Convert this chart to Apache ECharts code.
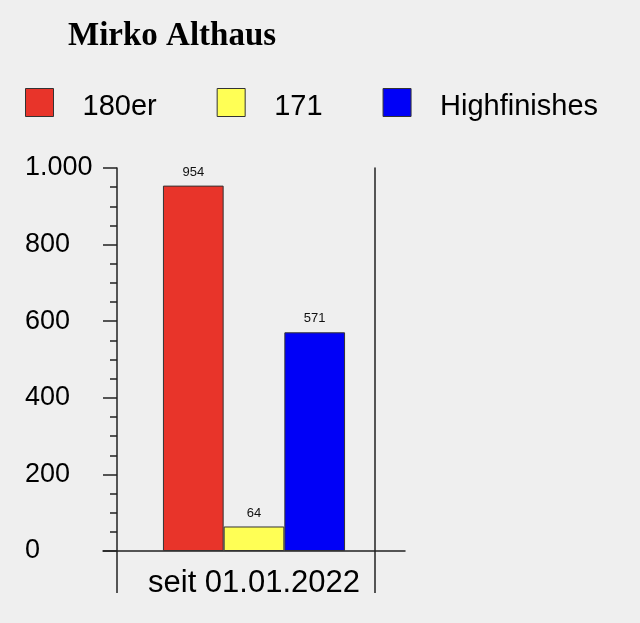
<!DOCTYPE html>
<html><head><meta charset="utf-8">
<script src="https://cdn.jsdelivr.net/npm/echarts@6/dist/echarts.min.js"></script>
<style>html,body{margin:0;padding:0;background:#efefef}#c{width:640px;height:623px}</style>
</head><body><div id="c"></div>
<script>
const titleText = 'Mirko Althaus';
const categories = ['seit 01.01.2022'];
const seriesNames = ['180er', '171', 'Highfinishes'];
const values180 = [954];
const values171 = [64];
const valuesHigh = [571];
const colors = ['#e8342a', '#ffff55', '#0000f7'];
const yTicks = [0, 200, 400, 600, 800, 1000];

const chart = echarts.init(document.getElementById('c'));
const font = 'Liberation Sans, Arial, Helvetica, sans-serif';
const lbl = {show: true, position: 'top', distance: 7, fontSize: 13, color: '#111', fontFamily: font};
const bar = (name, data, color) => ({
  name, type: 'bar', data, barGap: 0, barCategoryGap: '39.7%',
  itemStyle: {color, borderColor: '#333', borderWidth: 1},
  label: lbl
});
chart.setOption({
  backgroundColor: '#efefef',
  animation: false,
  title: {text: titleText, left: 68, top: 20, padding: 0,
    textStyle: {fontFamily: 'Liberation Serif, Times New Roman, serif', fontWeight: 'bold', fontSize: 33, color: '#000'}},
  legend: {left: 25, top: 88, padding: 0, itemWidth: 28, itemHeight: 28, itemGap: 60,
    icon: 'rect', data: seriesNames,
    itemStyle: {borderColor: '#333', borderWidth: 1},
    formatter: '{t|{name}}',
    textStyle: {fontFamily: font, fontSize: 29, color: '#000', padding: [0, 0, 0, 24],
      rich: {t: {fontFamily: font, fontSize: 29, color: '#000', padding: [8, 0, 0, 0]}}}},
  grid: {left: 103, right: 235, top: 168, bottom: 72},
  xAxis: {type: 'category', data: categories,
    axisLine: {lineStyle: {color: '#222', width: 1.5}},
    axisTick: {show: false},
    axisLabel: {fontFamily: font, fontSize: 31, color: '#000', margin: 17}},
  yAxis: [{type: 'value', min: yTicks[0], max: yTicks[yTicks.length - 1], interval: 200, offset: -14,
    axisLine: {show: true, lineStyle: {color: '#222', width: 1.5}},
    axisTick: {show: true, length: 14, inside: false, lineStyle: {color: '#222', width: 1.5}},
    minorTick: {show: true, splitNumber: 4, length: 7, lineStyle: {color: '#222', width: 1.5}},
    splitLine: {show: false},
    axisLabel: {fontFamily: font, fontSize: 27, color: '#000', align: 'left', margin: 92,
      formatter: v => v.toLocaleString('de-DE')}},
   {type: 'value', position: 'right', min: 0, max: 1000, offset: -30,
    axisLine: {show: true, lineStyle: {color: '#222', width: 1.5}},
    axisTick: {show: false}, axisLabel: {show: false}, splitLine: {show: false}}],
  series: [bar(seriesNames[0], values180, colors[0]), bar(seriesNames[1], values171, colors[1]), bar(seriesNames[2], valuesHigh, colors[2])]
});
// stubs of the two vertical lines below the x axis
const y0 = chart.convertToPixel({yAxisIndex: 0}, 0);
const cx = chart.convertToPixel({xAxisIndex: 0}, categories[0]);
const bw = chart.getModel().getComponent('xAxis', 0).axis.getBandWidth();
const xl = cx - bw / 2 + 14, xr = cx + bw / 2 - 30;
const ls = {stroke: '#222', lineWidth: 1.5};
chart.setOption({graphic: [
  {type: 'line', shape: {x1: xl, y1: y0, x2: xl, y2: y0 + 42}, style: ls},
  {type: 'line', shape: {x1: xr, y1: y0, x2: xr, y2: y0 + 42}, style: ls}
]});
</script></body></html>
